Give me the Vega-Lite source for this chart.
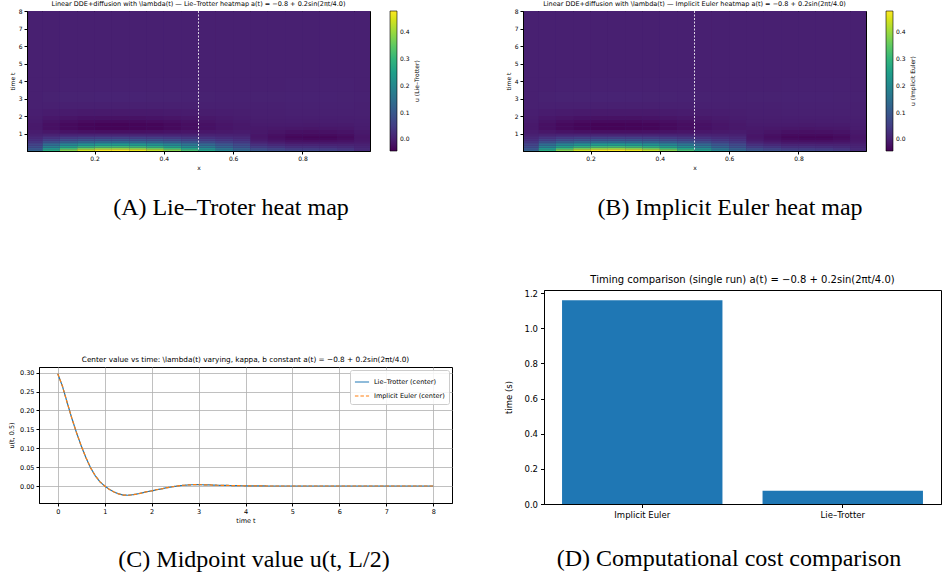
{
  "$schema": "https://vega.github.io/schema/vega-lite/v6.json",
  "padding": {"left": 7, "top": 0, "right": 0, "bottom": 0},
  "background": "white",
  "config": {
    "font": "DejaVu Sans",
    "view": {"stroke": "black", "strokeWidth": 1},
    "axis": {"labelFont": "DejaVu Sans", "titleFont": "DejaVu Sans", "labelColor": "black", "titleColor": "black", "tickColor": "black", "domainColor": "black", "titleFontWeight": "normal", "grid": false, "tickSize": 3, "labelPadding": 2},
    "title": {"font": "DejaVu Sans", "fontWeight": "normal", "color": "black", "anchor": "middle", "frame": "group"},
    "legend": {"labelFont": "DejaVu Sans", "titleFont": "DejaVu Sans", "labelColor": "black", "titleColor": "black"}
  },
  "datasets": {
    "heat": [
      {"x":0,"x2":0.05,"t":0,"t2":0.1,"u":0.12},{"x":0,"x2":0.05,"t":0.1,"t2":0.2,"u":0.098},{"x":0,"x2":0.05,"t":0.2,"t2":0.3,"u":0.079},{"x":0,"x2":0.05,"t":0.3,"t2":0.4,"u":0.062},{"x":0,"x2":0.05,"t":0.4,"t2":0.5,"u":0.048},{"x":0,"x2":0.05,"t":0.5,"t2":0.6,"u":0.035},{"x":0,"x2":0.05,"t":0.6,"t2":0.7,"u":0.024},{"x":0,"x2":0.05,"t":0.7,"t2":0.8,"u":0.014},{"x":0,"x2":0.05,"t":0.8,"t2":0.9,"u":0.007},{"x":0,"x2":0.05,"t":0.9,"t2":1,"u":0.001},{"x":0,"x2":0.05,"t":1,"t2":1.2,"u":-0.006},{"x":0,"x2":0.05,"t":1.2,"t2":1.4,"u":-0.01},{"x":0,"x2":0.05,"t":1.4,"t2":1.6,"u":-0.01},{"x":0,"x2":0.05,"t":1.6,"t2":1.8,"u":-0.008},{"x":0,"x2":0.05,"t":1.8,"t2":2,"u":-0.005},{"x":0,"x2":0.05,"t":2,"t2":2.4,"u":-0.002},{"x":0,"x2":0.05,"t":2.4,"t2":2.8,"u":0},{"x":0,"x2":0.05,"t":2.8,"t2":3.4,"u":0.001},{"x":0,"x2":0.05,"t":3.4,"t2":4.2,"u":0.001},{"x":0,"x2":0.05,"t":4.2,"t2":8,"u":0},
      {"x":0.05,"x2":0.1,"t":0,"t2":0.1,"u":0.28},{"x":0.05,"x2":0.1,"t":0.1,"t2":0.2,"u":0.23},{"x":0.05,"x2":0.1,"t":0.2,"t2":0.3,"u":0.185},{"x":0.05,"x2":0.1,"t":0.3,"t2":0.4,"u":0.146},{"x":0.05,"x2":0.1,"t":0.4,"t2":0.5,"u":0.112},{"x":0.05,"x2":0.1,"t":0.5,"t2":0.6,"u":0.081},{"x":0.05,"x2":0.1,"t":0.6,"t2":0.7,"u":0.056},{"x":0.05,"x2":0.1,"t":0.7,"t2":0.8,"u":0.034},{"x":0.05,"x2":0.1,"t":0.8,"t2":0.9,"u":0.017},{"x":0.05,"x2":0.1,"t":0.9,"t2":1,"u":0.003},{"x":0.05,"x2":0.1,"t":1,"t2":1.2,"u":-0.014},{"x":0.05,"x2":0.1,"t":1.2,"t2":1.4,"u":-0.024},{"x":0.05,"x2":0.1,"t":1.4,"t2":1.6,"u":-0.024},{"x":0.05,"x2":0.1,"t":1.6,"t2":1.8,"u":-0.018},{"x":0.05,"x2":0.1,"t":1.8,"t2":2,"u":-0.013},{"x":0.05,"x2":0.1,"t":2,"t2":2.4,"u":-0.006},{"x":0.05,"x2":0.1,"t":2.4,"t2":2.8,"u":0.001},{"x":0.05,"x2":0.1,"t":2.8,"t2":3.4,"u":0.003},{"x":0.05,"x2":0.1,"t":3.4,"t2":4.2,"u":0.001},{"x":0.05,"x2":0.1,"t":4.2,"t2":8,"u":0},
      {"x":0.1,"x2":0.15,"t":0,"t2":0.1,"u":0.38},{"x":0.1,"x2":0.15,"t":0.1,"t2":0.2,"u":0.312},{"x":0.1,"x2":0.15,"t":0.2,"t2":0.3,"u":0.251},{"x":0.1,"x2":0.15,"t":0.3,"t2":0.4,"u":0.198},{"x":0.1,"x2":0.15,"t":0.4,"t2":0.5,"u":0.152},{"x":0.1,"x2":0.15,"t":0.5,"t2":0.6,"u":0.11},{"x":0.1,"x2":0.15,"t":0.6,"t2":0.7,"u":0.076},{"x":0.1,"x2":0.15,"t":0.7,"t2":0.8,"u":0.046},{"x":0.1,"x2":0.15,"t":0.8,"t2":0.9,"u":0.023},{"x":0.1,"x2":0.15,"t":0.9,"t2":1,"u":0.004},{"x":0.1,"x2":0.15,"t":1,"t2":1.2,"u":-0.019},{"x":0.1,"x2":0.15,"t":1.2,"t2":1.4,"u":-0.032},{"x":0.1,"x2":0.15,"t":1.4,"t2":1.6,"u":-0.032},{"x":0.1,"x2":0.15,"t":1.6,"t2":1.8,"u":-0.025},{"x":0.1,"x2":0.15,"t":1.8,"t2":2,"u":-0.017},{"x":0.1,"x2":0.15,"t":2,"t2":2.4,"u":-0.008},{"x":0.1,"x2":0.15,"t":2.4,"t2":2.8,"u":0.001},{"x":0.1,"x2":0.15,"t":2.8,"t2":3.4,"u":0.005},{"x":0.1,"x2":0.15,"t":3.4,"t2":4.2,"u":0.002},{"x":0.1,"x2":0.15,"t":4.2,"t2":8,"u":0},
      {"x":0.15,"x2":0.2,"t":0,"t2":0.1,"u":0.44},{"x":0.15,"x2":0.2,"t":0.1,"t2":0.2,"u":0.361},{"x":0.15,"x2":0.2,"t":0.2,"t2":0.3,"u":0.29},{"x":0.15,"x2":0.2,"t":0.3,"t2":0.4,"u":0.229},{"x":0.15,"x2":0.2,"t":0.4,"t2":0.5,"u":0.176},{"x":0.15,"x2":0.2,"t":0.5,"t2":0.6,"u":0.128},{"x":0.15,"x2":0.2,"t":0.6,"t2":0.7,"u":0.088},{"x":0.15,"x2":0.2,"t":0.7,"t2":0.8,"u":0.053},{"x":0.15,"x2":0.2,"t":0.8,"t2":0.9,"u":0.026},{"x":0.15,"x2":0.2,"t":0.9,"t2":1,"u":0.004},{"x":0.15,"x2":0.2,"t":1,"t2":1.2,"u":-0.022},{"x":0.15,"x2":0.2,"t":1.2,"t2":1.4,"u":-0.037},{"x":0.15,"x2":0.2,"t":1.4,"t2":1.6,"u":-0.037},{"x":0.15,"x2":0.2,"t":1.6,"t2":1.8,"u":-0.029},{"x":0.15,"x2":0.2,"t":1.8,"t2":2,"u":-0.02},{"x":0.15,"x2":0.2,"t":2,"t2":2.4,"u":-0.009},{"x":0.15,"x2":0.2,"t":2.4,"t2":2.8,"u":0.001},{"x":0.15,"x2":0.2,"t":2.8,"t2":3.4,"u":0.005},{"x":0.15,"x2":0.2,"t":3.4,"t2":4.2,"u":0.002},{"x":0.15,"x2":0.2,"t":4.2,"t2":8,"u":0},
      {"x":0.2,"x2":0.25,"t":0,"t2":0.1,"u":0.47},{"x":0.2,"x2":0.25,"t":0.1,"t2":0.2,"u":0.385},{"x":0.2,"x2":0.25,"t":0.2,"t2":0.3,"u":0.31},{"x":0.2,"x2":0.25,"t":0.3,"t2":0.4,"u":0.244},{"x":0.2,"x2":0.25,"t":0.4,"t2":0.5,"u":0.188},{"x":0.2,"x2":0.25,"t":0.5,"t2":0.6,"u":0.136},{"x":0.2,"x2":0.25,"t":0.6,"t2":0.7,"u":0.094},{"x":0.2,"x2":0.25,"t":0.7,"t2":0.8,"u":0.056},{"x":0.2,"x2":0.25,"t":0.8,"t2":0.9,"u":0.028},{"x":0.2,"x2":0.25,"t":0.9,"t2":1,"u":0.005},{"x":0.2,"x2":0.25,"t":1,"t2":1.2,"u":-0.024},{"x":0.2,"x2":0.25,"t":1.2,"t2":1.4,"u":-0.04},{"x":0.2,"x2":0.25,"t":1.4,"t2":1.6,"u":-0.04},{"x":0.2,"x2":0.25,"t":1.6,"t2":1.8,"u":-0.031},{"x":0.2,"x2":0.25,"t":1.8,"t2":2,"u":-0.021},{"x":0.2,"x2":0.25,"t":2,"t2":2.4,"u":-0.009},{"x":0.2,"x2":0.25,"t":2.4,"t2":2.8,"u":0.001},{"x":0.2,"x2":0.25,"t":2.8,"t2":3.4,"u":0.006},{"x":0.2,"x2":0.25,"t":3.4,"t2":4.2,"u":0.002},{"x":0.2,"x2":0.25,"t":4.2,"t2":8,"u":0},
      {"x":0.25,"x2":0.3,"t":0,"t2":0.1,"u":0.475},{"x":0.25,"x2":0.3,"t":0.1,"t2":0.2,"u":0.39},{"x":0.25,"x2":0.3,"t":0.2,"t2":0.3,"u":0.313},{"x":0.25,"x2":0.3,"t":0.3,"t2":0.4,"u":0.247},{"x":0.25,"x2":0.3,"t":0.4,"t2":0.5,"u":0.19},{"x":0.25,"x2":0.3,"t":0.5,"t2":0.6,"u":0.138},{"x":0.25,"x2":0.3,"t":0.6,"t2":0.7,"u":0.095},{"x":0.25,"x2":0.3,"t":0.7,"t2":0.8,"u":0.057},{"x":0.25,"x2":0.3,"t":0.8,"t2":0.9,"u":0.028},{"x":0.25,"x2":0.3,"t":0.9,"t2":1,"u":0.005},{"x":0.25,"x2":0.3,"t":1,"t2":1.2,"u":-0.024},{"x":0.25,"x2":0.3,"t":1.2,"t2":1.4,"u":-0.04},{"x":0.25,"x2":0.3,"t":1.4,"t2":1.6,"u":-0.04},{"x":0.25,"x2":0.3,"t":1.6,"t2":1.8,"u":-0.031},{"x":0.25,"x2":0.3,"t":1.8,"t2":2,"u":-0.021},{"x":0.25,"x2":0.3,"t":2,"t2":2.4,"u":-0.009},{"x":0.25,"x2":0.3,"t":2.4,"t2":2.8,"u":0.001},{"x":0.25,"x2":0.3,"t":2.8,"t2":3.4,"u":0.006},{"x":0.25,"x2":0.3,"t":3.4,"t2":4.2,"u":0.002},{"x":0.25,"x2":0.3,"t":4.2,"t2":8,"u":0},
      {"x":0.3,"x2":0.35,"t":0,"t2":0.1,"u":0.46},{"x":0.3,"x2":0.35,"t":0.1,"t2":0.2,"u":0.377},{"x":0.3,"x2":0.35,"t":0.2,"t2":0.3,"u":0.304},{"x":0.3,"x2":0.35,"t":0.3,"t2":0.4,"u":0.239},{"x":0.3,"x2":0.35,"t":0.4,"t2":0.5,"u":0.184},{"x":0.3,"x2":0.35,"t":0.5,"t2":0.6,"u":0.133},{"x":0.3,"x2":0.35,"t":0.6,"t2":0.7,"u":0.092},{"x":0.3,"x2":0.35,"t":0.7,"t2":0.8,"u":0.055},{"x":0.3,"x2":0.35,"t":0.8,"t2":0.9,"u":0.028},{"x":0.3,"x2":0.35,"t":0.9,"t2":1,"u":0.005},{"x":0.3,"x2":0.35,"t":1,"t2":1.2,"u":-0.023},{"x":0.3,"x2":0.35,"t":1.2,"t2":1.4,"u":-0.039},{"x":0.3,"x2":0.35,"t":1.4,"t2":1.6,"u":-0.039},{"x":0.3,"x2":0.35,"t":1.6,"t2":1.8,"u":-0.03},{"x":0.3,"x2":0.35,"t":1.8,"t2":2,"u":-0.021},{"x":0.3,"x2":0.35,"t":2,"t2":2.4,"u":-0.009},{"x":0.3,"x2":0.35,"t":2.4,"t2":2.8,"u":0.001},{"x":0.3,"x2":0.35,"t":2.8,"t2":3.4,"u":0.006},{"x":0.3,"x2":0.35,"t":3.4,"t2":4.2,"u":0.002},{"x":0.3,"x2":0.35,"t":4.2,"t2":8,"u":0},
      {"x":0.35,"x2":0.4,"t":0,"t2":0.1,"u":0.43},{"x":0.35,"x2":0.4,"t":0.1,"t2":0.2,"u":0.353},{"x":0.35,"x2":0.4,"t":0.2,"t2":0.3,"u":0.284},{"x":0.35,"x2":0.4,"t":0.3,"t2":0.4,"u":0.224},{"x":0.35,"x2":0.4,"t":0.4,"t2":0.5,"u":0.172},{"x":0.35,"x2":0.4,"t":0.5,"t2":0.6,"u":0.125},{"x":0.35,"x2":0.4,"t":0.6,"t2":0.7,"u":0.086},{"x":0.35,"x2":0.4,"t":0.7,"t2":0.8,"u":0.052},{"x":0.35,"x2":0.4,"t":0.8,"t2":0.9,"u":0.026},{"x":0.35,"x2":0.4,"t":0.9,"t2":1,"u":0.004},{"x":0.35,"x2":0.4,"t":1,"t2":1.2,"u":-0.022},{"x":0.35,"x2":0.4,"t":1.2,"t2":1.4,"u":-0.037},{"x":0.35,"x2":0.4,"t":1.4,"t2":1.6,"u":-0.037},{"x":0.35,"x2":0.4,"t":1.6,"t2":1.8,"u":-0.028},{"x":0.35,"x2":0.4,"t":1.8,"t2":2,"u":-0.019},{"x":0.35,"x2":0.4,"t":2,"t2":2.4,"u":-0.009},{"x":0.35,"x2":0.4,"t":2.4,"t2":2.8,"u":0.001},{"x":0.35,"x2":0.4,"t":2.8,"t2":3.4,"u":0.005},{"x":0.35,"x2":0.4,"t":3.4,"t2":4.2,"u":0.002},{"x":0.35,"x2":0.4,"t":4.2,"t2":8,"u":0},
      {"x":0.4,"x2":0.45,"t":0,"t2":0.1,"u":0.38},{"x":0.4,"x2":0.45,"t":0.1,"t2":0.2,"u":0.312},{"x":0.4,"x2":0.45,"t":0.2,"t2":0.3,"u":0.251},{"x":0.4,"x2":0.45,"t":0.3,"t2":0.4,"u":0.198},{"x":0.4,"x2":0.45,"t":0.4,"t2":0.5,"u":0.152},{"x":0.4,"x2":0.45,"t":0.5,"t2":0.6,"u":0.11},{"x":0.4,"x2":0.45,"t":0.6,"t2":0.7,"u":0.076},{"x":0.4,"x2":0.45,"t":0.7,"t2":0.8,"u":0.046},{"x":0.4,"x2":0.45,"t":0.8,"t2":0.9,"u":0.023},{"x":0.4,"x2":0.45,"t":0.9,"t2":1,"u":0.004},{"x":0.4,"x2":0.45,"t":1,"t2":1.2,"u":-0.019},{"x":0.4,"x2":0.45,"t":1.2,"t2":1.4,"u":-0.032},{"x":0.4,"x2":0.45,"t":1.4,"t2":1.6,"u":-0.032},{"x":0.4,"x2":0.45,"t":1.6,"t2":1.8,"u":-0.025},{"x":0.4,"x2":0.45,"t":1.8,"t2":2,"u":-0.017},{"x":0.4,"x2":0.45,"t":2,"t2":2.4,"u":-0.008},{"x":0.4,"x2":0.45,"t":2.4,"t2":2.8,"u":0.001},{"x":0.4,"x2":0.45,"t":2.8,"t2":3.4,"u":0.005},{"x":0.4,"x2":0.45,"t":3.4,"t2":4.2,"u":0.002},{"x":0.4,"x2":0.45,"t":4.2,"t2":8,"u":0},
      {"x":0.45,"x2":0.5,"t":0,"t2":0.1,"u":0.32},{"x":0.45,"x2":0.5,"t":0.1,"t2":0.2,"u":0.262},{"x":0.45,"x2":0.5,"t":0.2,"t2":0.3,"u":0.211},{"x":0.45,"x2":0.5,"t":0.3,"t2":0.4,"u":0.166},{"x":0.45,"x2":0.5,"t":0.4,"t2":0.5,"u":0.128},{"x":0.45,"x2":0.5,"t":0.5,"t2":0.6,"u":0.093},{"x":0.45,"x2":0.5,"t":0.6,"t2":0.7,"u":0.064},{"x":0.45,"x2":0.5,"t":0.7,"t2":0.8,"u":0.038},{"x":0.45,"x2":0.5,"t":0.8,"t2":0.9,"u":0.019},{"x":0.45,"x2":0.5,"t":0.9,"t2":1,"u":0.003},{"x":0.45,"x2":0.5,"t":1,"t2":1.2,"u":-0.016},{"x":0.45,"x2":0.5,"t":1.2,"t2":1.4,"u":-0.027},{"x":0.45,"x2":0.5,"t":1.4,"t2":1.6,"u":-0.027},{"x":0.45,"x2":0.5,"t":1.6,"t2":1.8,"u":-0.021},{"x":0.45,"x2":0.5,"t":1.8,"t2":2,"u":-0.014},{"x":0.45,"x2":0.5,"t":2,"t2":2.4,"u":-0.006},{"x":0.45,"x2":0.5,"t":2.4,"t2":2.8,"u":0.001},{"x":0.45,"x2":0.5,"t":2.8,"t2":3.4,"u":0.004},{"x":0.45,"x2":0.5,"t":3.4,"t2":4.2,"u":0.002},{"x":0.45,"x2":0.5,"t":4.2,"t2":8,"u":0},
      {"x":0.5,"x2":0.55,"t":0,"t2":0.1,"u":0.26},{"x":0.5,"x2":0.55,"t":0.1,"t2":0.2,"u":0.213},{"x":0.5,"x2":0.55,"t":0.2,"t2":0.3,"u":0.172},{"x":0.5,"x2":0.55,"t":0.3,"t2":0.4,"u":0.135},{"x":0.5,"x2":0.55,"t":0.4,"t2":0.5,"u":0.104},{"x":0.5,"x2":0.55,"t":0.5,"t2":0.6,"u":0.075},{"x":0.5,"x2":0.55,"t":0.6,"t2":0.7,"u":0.052},{"x":0.5,"x2":0.55,"t":0.7,"t2":0.8,"u":0.031},{"x":0.5,"x2":0.55,"t":0.8,"t2":0.9,"u":0.016},{"x":0.5,"x2":0.55,"t":0.9,"t2":1,"u":0.003},{"x":0.5,"x2":0.55,"t":1,"t2":1.2,"u":-0.013},{"x":0.5,"x2":0.55,"t":1.2,"t2":1.4,"u":-0.022},{"x":0.5,"x2":0.55,"t":1.4,"t2":1.6,"u":-0.022},{"x":0.5,"x2":0.55,"t":1.6,"t2":1.8,"u":-0.017},{"x":0.5,"x2":0.55,"t":1.8,"t2":2,"u":-0.012},{"x":0.5,"x2":0.55,"t":2,"t2":2.4,"u":-0.005},{"x":0.5,"x2":0.55,"t":2.4,"t2":2.8,"u":0.001},{"x":0.5,"x2":0.55,"t":2.8,"t2":3.4,"u":0.003},{"x":0.5,"x2":0.55,"t":3.4,"t2":4.2,"u":0.001},{"x":0.5,"x2":0.55,"t":4.2,"t2":8,"u":0},
      {"x":0.55,"x2":0.6,"t":0,"t2":0.1,"u":0.19},{"x":0.55,"x2":0.6,"t":0.1,"t2":0.2,"u":0.156},{"x":0.55,"x2":0.6,"t":0.2,"t2":0.3,"u":0.125},{"x":0.55,"x2":0.6,"t":0.3,"t2":0.4,"u":0.099},{"x":0.55,"x2":0.6,"t":0.4,"t2":0.5,"u":0.076},{"x":0.55,"x2":0.6,"t":0.5,"t2":0.6,"u":0.055},{"x":0.55,"x2":0.6,"t":0.6,"t2":0.7,"u":0.038},{"x":0.55,"x2":0.6,"t":0.7,"t2":0.8,"u":0.023},{"x":0.55,"x2":0.6,"t":0.8,"t2":0.9,"u":0.011},{"x":0.55,"x2":0.6,"t":0.9,"t2":1,"u":0.002},{"x":0.55,"x2":0.6,"t":1,"t2":1.2,"u":-0.01},{"x":0.55,"x2":0.6,"t":1.2,"t2":1.4,"u":-0.016},{"x":0.55,"x2":0.6,"t":1.4,"t2":1.6,"u":-0.016},{"x":0.55,"x2":0.6,"t":1.6,"t2":1.8,"u":-0.012},{"x":0.55,"x2":0.6,"t":1.8,"t2":2,"u":-0.009},{"x":0.55,"x2":0.6,"t":2,"t2":2.4,"u":-0.004},{"x":0.55,"x2":0.6,"t":2.4,"t2":2.8,"u":0.001},{"x":0.55,"x2":0.6,"t":2.8,"t2":3.4,"u":0.002},{"x":0.55,"x2":0.6,"t":3.4,"t2":4.2,"u":0.001},{"x":0.55,"x2":0.6,"t":4.2,"t2":8,"u":0},
      {"x":0.6,"x2":0.65,"t":0,"t2":0.1,"u":0.14},{"x":0.6,"x2":0.65,"t":0.1,"t2":0.2,"u":0.115},{"x":0.6,"x2":0.65,"t":0.2,"t2":0.3,"u":0.092},{"x":0.6,"x2":0.65,"t":0.3,"t2":0.4,"u":0.073},{"x":0.6,"x2":0.65,"t":0.4,"t2":0.5,"u":0.056},{"x":0.6,"x2":0.65,"t":0.5,"t2":0.6,"u":0.041},{"x":0.6,"x2":0.65,"t":0.6,"t2":0.7,"u":0.028},{"x":0.6,"x2":0.65,"t":0.7,"t2":0.8,"u":0.017},{"x":0.6,"x2":0.65,"t":0.8,"t2":0.9,"u":0.008},{"x":0.6,"x2":0.65,"t":0.9,"t2":1,"u":0.001},{"x":0.6,"x2":0.65,"t":1,"t2":1.2,"u":-0.007},{"x":0.6,"x2":0.65,"t":1.2,"t2":1.4,"u":-0.012},{"x":0.6,"x2":0.65,"t":1.4,"t2":1.6,"u":-0.012},{"x":0.6,"x2":0.65,"t":1.6,"t2":1.8,"u":-0.009},{"x":0.6,"x2":0.65,"t":1.8,"t2":2,"u":-0.006},{"x":0.6,"x2":0.65,"t":2,"t2":2.4,"u":-0.003},{"x":0.6,"x2":0.65,"t":2.4,"t2":2.8,"u":0},{"x":0.6,"x2":0.65,"t":2.8,"t2":3.4,"u":0.002},{"x":0.6,"x2":0.65,"t":3.4,"t2":4.2,"u":0.001},{"x":0.6,"x2":0.65,"t":4.2,"t2":8,"u":0},
      {"x":0.65,"x2":0.7,"t":0,"t2":0.1,"u":0.1},{"x":0.65,"x2":0.7,"t":0.1,"t2":0.2,"u":0.075},{"x":0.65,"x2":0.7,"t":0.2,"t2":0.3,"u":0.05},{"x":0.65,"x2":0.7,"t":0.3,"t2":0.4,"u":0.03},{"x":0.65,"x2":0.7,"t":0.4,"t2":0.5,"u":0.015},{"x":0.65,"x2":0.7,"t":0.5,"t2":0.6,"u":0},{"x":0.65,"x2":0.7,"t":0.6,"t2":0.7,"u":-0.01},{"x":0.65,"x2":0.7,"t":0.7,"t2":0.8,"u":-0.015},{"x":0.65,"x2":0.7,"t":0.8,"t2":0.9,"u":-0.016},{"x":0.65,"x2":0.7,"t":0.9,"t2":1,"u":-0.015},{"x":0.65,"x2":0.7,"t":1,"t2":1.2,"u":-0.012},{"x":0.65,"x2":0.7,"t":1.2,"t2":1.4,"u":-0.01},{"x":0.65,"x2":0.7,"t":1.4,"t2":1.6,"u":-0.008},{"x":0.65,"x2":0.7,"t":1.6,"t2":1.8,"u":-0.005},{"x":0.65,"x2":0.7,"t":1.8,"t2":2,"u":-0.003},{"x":0.65,"x2":0.7,"t":2,"t2":2.4,"u":-0.001},{"x":0.65,"x2":0.7,"t":2.4,"t2":2.8,"u":0.001},{"x":0.65,"x2":0.7,"t":2.8,"t2":3.4,"u":0.003},{"x":0.65,"x2":0.7,"t":3.4,"t2":4.2,"u":0.001},{"x":0.65,"x2":0.7,"t":4.2,"t2":8,"u":0},
      {"x":0.7,"x2":0.75,"t":0,"t2":0.1,"u":0.08},{"x":0.7,"x2":0.75,"t":0.1,"t2":0.2,"u":0.06},{"x":0.7,"x2":0.75,"t":0.2,"t2":0.3,"u":0.037},{"x":0.7,"x2":0.75,"t":0.3,"t2":0.4,"u":0.018},{"x":0.7,"x2":0.75,"t":0.4,"t2":0.5,"u":0.002},{"x":0.7,"x2":0.75,"t":0.5,"t2":0.6,"u":-0.012},{"x":0.7,"x2":0.75,"t":0.6,"t2":0.7,"u":-0.022},{"x":0.7,"x2":0.75,"t":0.7,"t2":0.8,"u":-0.027},{"x":0.7,"x2":0.75,"t":0.8,"t2":0.9,"u":-0.026},{"x":0.7,"x2":0.75,"t":0.9,"t2":1,"u":-0.023},{"x":0.7,"x2":0.75,"t":1,"t2":1.2,"u":-0.017},{"x":0.7,"x2":0.75,"t":1.2,"t2":1.4,"u":-0.012},{"x":0.7,"x2":0.75,"t":1.4,"t2":1.6,"u":-0.008},{"x":0.7,"x2":0.75,"t":1.6,"t2":1.8,"u":-0.005},{"x":0.7,"x2":0.75,"t":1.8,"t2":2,"u":-0.003},{"x":0.7,"x2":0.75,"t":2,"t2":2.4,"u":-0.001},{"x":0.7,"x2":0.75,"t":2.4,"t2":2.8,"u":0.001},{"x":0.7,"x2":0.75,"t":2.8,"t2":3.4,"u":0.003},{"x":0.7,"x2":0.75,"t":3.4,"t2":4.2,"u":0.001},{"x":0.7,"x2":0.75,"t":4.2,"t2":8,"u":0},
      {"x":0.75,"x2":0.8,"t":0,"t2":0.1,"u":0.07},{"x":0.75,"x2":0.8,"t":0.1,"t2":0.2,"u":0.045},{"x":0.75,"x2":0.8,"t":0.2,"t2":0.3,"u":0.025},{"x":0.75,"x2":0.8,"t":0.3,"t2":0.4,"u":0.008},{"x":0.75,"x2":0.8,"t":0.4,"t2":0.5,"u":-0.008},{"x":0.75,"x2":0.8,"t":0.5,"t2":0.6,"u":-0.02},{"x":0.75,"x2":0.8,"t":0.6,"t2":0.7,"u":-0.03},{"x":0.75,"x2":0.8,"t":0.7,"t2":0.8,"u":-0.036},{"x":0.75,"x2":0.8,"t":0.8,"t2":0.9,"u":-0.034},{"x":0.75,"x2":0.8,"t":0.9,"t2":1,"u":-0.03},{"x":0.75,"x2":0.8,"t":1,"t2":1.2,"u":-0.022},{"x":0.75,"x2":0.8,"t":1.2,"t2":1.4,"u":-0.014},{"x":0.75,"x2":0.8,"t":1.4,"t2":1.6,"u":-0.008},{"x":0.75,"x2":0.8,"t":1.6,"t2":1.8,"u":-0.004},{"x":0.75,"x2":0.8,"t":1.8,"t2":2,"u":-0.002},{"x":0.75,"x2":0.8,"t":2,"t2":2.4,"u":0},{"x":0.75,"x2":0.8,"t":2.4,"t2":2.8,"u":0.002},{"x":0.75,"x2":0.8,"t":2.8,"t2":3.4,"u":0.004},{"x":0.75,"x2":0.8,"t":3.4,"t2":4.2,"u":0.002},{"x":0.75,"x2":0.8,"t":4.2,"t2":8,"u":0},
      {"x":0.8,"x2":0.85,"t":0,"t2":0.1,"u":0.07},{"x":0.8,"x2":0.85,"t":0.1,"t2":0.2,"u":0.045},{"x":0.8,"x2":0.85,"t":0.2,"t2":0.3,"u":0.025},{"x":0.8,"x2":0.85,"t":0.3,"t2":0.4,"u":0.008},{"x":0.8,"x2":0.85,"t":0.4,"t2":0.5,"u":-0.008},{"x":0.8,"x2":0.85,"t":0.5,"t2":0.6,"u":-0.022},{"x":0.8,"x2":0.85,"t":0.6,"t2":0.7,"u":-0.033},{"x":0.8,"x2":0.85,"t":0.7,"t2":0.8,"u":-0.038},{"x":0.8,"x2":0.85,"t":0.8,"t2":0.9,"u":-0.036},{"x":0.8,"x2":0.85,"t":0.9,"t2":1,"u":-0.031},{"x":0.8,"x2":0.85,"t":1,"t2":1.2,"u":-0.023},{"x":0.8,"x2":0.85,"t":1.2,"t2":1.4,"u":-0.015},{"x":0.8,"x2":0.85,"t":1.4,"t2":1.6,"u":-0.009},{"x":0.8,"x2":0.85,"t":1.6,"t2":1.8,"u":-0.005},{"x":0.8,"x2":0.85,"t":1.8,"t2":2,"u":-0.002},{"x":0.8,"x2":0.85,"t":2,"t2":2.4,"u":0},{"x":0.8,"x2":0.85,"t":2.4,"t2":2.8,"u":0.002},{"x":0.8,"x2":0.85,"t":2.8,"t2":3.4,"u":0.004},{"x":0.8,"x2":0.85,"t":3.4,"t2":4.2,"u":0.002},{"x":0.8,"x2":0.85,"t":4.2,"t2":8,"u":0},
      {"x":0.85,"x2":0.9,"t":0,"t2":0.1,"u":0.06},{"x":0.85,"x2":0.9,"t":0.1,"t2":0.2,"u":0.04},{"x":0.85,"x2":0.9,"t":0.2,"t2":0.3,"u":0.022},{"x":0.85,"x2":0.9,"t":0.3,"t2":0.4,"u":0.006},{"x":0.85,"x2":0.9,"t":0.4,"t2":0.5,"u":-0.009},{"x":0.85,"x2":0.9,"t":0.5,"t2":0.6,"u":-0.022},{"x":0.85,"x2":0.9,"t":0.6,"t2":0.7,"u":-0.033},{"x":0.85,"x2":0.9,"t":0.7,"t2":0.8,"u":-0.038},{"x":0.85,"x2":0.9,"t":0.8,"t2":0.9,"u":-0.036},{"x":0.85,"x2":0.9,"t":0.9,"t2":1,"u":-0.031},{"x":0.85,"x2":0.9,"t":1,"t2":1.2,"u":-0.022},{"x":0.85,"x2":0.9,"t":1.2,"t2":1.4,"u":-0.014},{"x":0.85,"x2":0.9,"t":1.4,"t2":1.6,"u":-0.008},{"x":0.85,"x2":0.9,"t":1.6,"t2":1.8,"u":-0.004},{"x":0.85,"x2":0.9,"t":1.8,"t2":2,"u":-0.002},{"x":0.85,"x2":0.9,"t":2,"t2":2.4,"u":0},{"x":0.85,"x2":0.9,"t":2.4,"t2":2.8,"u":0.002},{"x":0.85,"x2":0.9,"t":2.8,"t2":3.4,"u":0.004},{"x":0.85,"x2":0.9,"t":3.4,"t2":4.2,"u":0.002},{"x":0.85,"x2":0.9,"t":4.2,"t2":8,"u":0},
      {"x":0.9,"x2":0.95,"t":0,"t2":0.1,"u":0.05},{"x":0.9,"x2":0.95,"t":0.1,"t2":0.2,"u":0.033},{"x":0.9,"x2":0.95,"t":0.2,"t2":0.3,"u":0.018},{"x":0.9,"x2":0.95,"t":0.3,"t2":0.4,"u":0.005},{"x":0.9,"x2":0.95,"t":0.4,"t2":0.5,"u":-0.008},{"x":0.9,"x2":0.95,"t":0.5,"t2":0.6,"u":-0.019},{"x":0.9,"x2":0.95,"t":0.6,"t2":0.7,"u":-0.028},{"x":0.9,"x2":0.95,"t":0.7,"t2":0.8,"u":-0.032},{"x":0.9,"x2":0.95,"t":0.8,"t2":0.9,"u":-0.03},{"x":0.9,"x2":0.95,"t":0.9,"t2":1,"u":-0.026},{"x":0.9,"x2":0.95,"t":1,"t2":1.2,"u":-0.019},{"x":0.9,"x2":0.95,"t":1.2,"t2":1.4,"u":-0.012},{"x":0.9,"x2":0.95,"t":1.4,"t2":1.6,"u":-0.007},{"x":0.9,"x2":0.95,"t":1.6,"t2":1.8,"u":-0.003},{"x":0.9,"x2":0.95,"t":1.8,"t2":2,"u":-0.002},{"x":0.9,"x2":0.95,"t":2,"t2":2.4,"u":0},{"x":0.9,"x2":0.95,"t":2.4,"t2":2.8,"u":0.002},{"x":0.9,"x2":0.95,"t":2.8,"t2":3.4,"u":0.003},{"x":0.9,"x2":0.95,"t":3.4,"t2":4.2,"u":0.002},{"x":0.9,"x2":0.95,"t":4.2,"t2":8,"u":0},
      {"x":0.95,"x2":1,"t":0,"t2":0.1,"u":0.02},{"x":0.95,"x2":1,"t":0.1,"t2":0.2,"u":0.015},{"x":0.95,"x2":1,"t":0.2,"t2":0.3,"u":0.008},{"x":0.95,"x2":1,"t":0.3,"t2":0.4,"u":0.002},{"x":0.95,"x2":1,"t":0.4,"t2":0.5,"u":-0.004},{"x":0.95,"x2":1,"t":0.5,"t2":0.6,"u":-0.01},{"x":0.95,"x2":1,"t":0.6,"t2":0.7,"u":-0.014},{"x":0.95,"x2":1,"t":0.7,"t2":0.8,"u":-0.016},{"x":0.95,"x2":1,"t":0.8,"t2":0.9,"u":-0.015},{"x":0.95,"x2":1,"t":0.9,"t2":1,"u":-0.013},{"x":0.95,"x2":1,"t":1,"t2":1.2,"u":-0.01},{"x":0.95,"x2":1,"t":1.2,"t2":1.4,"u":-0.006},{"x":0.95,"x2":1,"t":1.4,"t2":1.6,"u":-0.004},{"x":0.95,"x2":1,"t":1.6,"t2":1.8,"u":-0.002},{"x":0.95,"x2":1,"t":1.8,"t2":2,"u":-0.001},{"x":0.95,"x2":1,"t":2,"t2":2.4,"u":0},{"x":0.95,"x2":1,"t":2.4,"t2":2.8,"u":0.001},{"x":0.95,"x2":1,"t":2.8,"t2":3.4,"u":0.002},{"x":0.95,"x2":1,"t":3.4,"t2":4.2,"u":0.001},{"x":0.95,"x2":1,"t":4.2,"t2":8,"u":0}
    ],
    "center": [
      {"series":"Lie–Trotter (center)","t":0,"u":0.297},{"series":"Lie–Trotter (center)","t":0.1,"u":0.264},{"series":"Lie–Trotter (center)","t":0.2,"u":0.221},{"series":"Lie–Trotter (center)","t":0.3,"u":0.179},{"series":"Lie–Trotter (center)","t":0.4,"u":0.141},{"series":"Lie–Trotter (center)","t":0.5,"u":0.106},{"series":"Lie–Trotter (center)","t":0.6,"u":0.075},{"series":"Lie–Trotter (center)","t":0.7,"u":0.048},{"series":"Lie–Trotter (center)","t":0.8,"u":0.027},{"series":"Lie–Trotter (center)","t":0.9,"u":0.011},{"series":"Lie–Trotter (center)","t":1,"u":0},{"series":"Lie–Trotter (center)","t":1.1,"u":-0.009},{"series":"Lie–Trotter (center)","t":1.2,"u":-0.016},{"series":"Lie–Trotter (center)","t":1.3,"u":-0.021},{"series":"Lie–Trotter (center)","t":1.4,"u":-0.024},{"series":"Lie–Trotter (center)","t":1.5,"u":-0.0245},{"series":"Lie–Trotter (center)","t":1.6,"u":-0.023},{"series":"Lie–Trotter (center)","t":1.7,"u":-0.021},{"series":"Lie–Trotter (center)","t":1.8,"u":-0.018},{"series":"Lie–Trotter (center)","t":1.9,"u":-0.015},{"series":"Lie–Trotter (center)","t":2,"u":-0.013},{"series":"Lie–Trotter (center)","t":2.1,"u":-0.01},{"series":"Lie–Trotter (center)","t":2.2,"u":-0.008},{"series":"Lie–Trotter (center)","t":2.3,"u":-0.005},{"series":"Lie–Trotter (center)","t":2.4,"u":-0.003},{"series":"Lie–Trotter (center)","t":2.5,"u":-0.001},{"series":"Lie–Trotter (center)","t":2.6,"u":0.001},{"series":"Lie–Trotter (center)","t":2.7,"u":0.002},{"series":"Lie–Trotter (center)","t":2.8,"u":0.003},{"series":"Lie–Trotter (center)","t":2.9,"u":0.0035},{"series":"Lie–Trotter (center)","t":3,"u":0.0035},{"series":"Lie–Trotter (center)","t":3.2,"u":0.003},{"series":"Lie–Trotter (center)","t":3.4,"u":0.002},{"series":"Lie–Trotter (center)","t":3.6,"u":0.0015},{"series":"Lie–Trotter (center)","t":3.8,"u":0.001},{"series":"Lie–Trotter (center)","t":4,"u":0.0005},{"series":"Lie–Trotter (center)","t":4.5,"u":0},{"series":"Lie–Trotter (center)","t":5,"u":0},{"series":"Lie–Trotter (center)","t":6,"u":0},{"series":"Lie–Trotter (center)","t":7,"u":0},{"series":"Lie–Trotter (center)","t":8,"u":0},
      {"series":"Implicit Euler (center)","t":0,"u":0.297},{"series":"Implicit Euler (center)","t":0.1,"u":0.264},{"series":"Implicit Euler (center)","t":0.2,"u":0.221},{"series":"Implicit Euler (center)","t":0.3,"u":0.179},{"series":"Implicit Euler (center)","t":0.4,"u":0.141},{"series":"Implicit Euler (center)","t":0.5,"u":0.106},{"series":"Implicit Euler (center)","t":0.6,"u":0.075},{"series":"Implicit Euler (center)","t":0.7,"u":0.048},{"series":"Implicit Euler (center)","t":0.8,"u":0.027},{"series":"Implicit Euler (center)","t":0.9,"u":0.011},{"series":"Implicit Euler (center)","t":1,"u":0},{"series":"Implicit Euler (center)","t":1.1,"u":-0.009},{"series":"Implicit Euler (center)","t":1.2,"u":-0.016},{"series":"Implicit Euler (center)","t":1.3,"u":-0.021},{"series":"Implicit Euler (center)","t":1.4,"u":-0.024},{"series":"Implicit Euler (center)","t":1.5,"u":-0.0245},{"series":"Implicit Euler (center)","t":1.6,"u":-0.023},{"series":"Implicit Euler (center)","t":1.7,"u":-0.021},{"series":"Implicit Euler (center)","t":1.8,"u":-0.018},{"series":"Implicit Euler (center)","t":1.9,"u":-0.015},{"series":"Implicit Euler (center)","t":2,"u":-0.013},{"series":"Implicit Euler (center)","t":2.1,"u":-0.01},{"series":"Implicit Euler (center)","t":2.2,"u":-0.008},{"series":"Implicit Euler (center)","t":2.3,"u":-0.005},{"series":"Implicit Euler (center)","t":2.4,"u":-0.003},{"series":"Implicit Euler (center)","t":2.5,"u":-0.001},{"series":"Implicit Euler (center)","t":2.6,"u":0.001},{"series":"Implicit Euler (center)","t":2.7,"u":0.002},{"series":"Implicit Euler (center)","t":2.8,"u":0.003},{"series":"Implicit Euler (center)","t":2.9,"u":0.0035},{"series":"Implicit Euler (center)","t":3,"u":0.0035},{"series":"Implicit Euler (center)","t":3.2,"u":0.003},{"series":"Implicit Euler (center)","t":3.4,"u":0.002},{"series":"Implicit Euler (center)","t":3.6,"u":0.0015},{"series":"Implicit Euler (center)","t":3.8,"u":0.001},{"series":"Implicit Euler (center)","t":4,"u":0.0005},{"series":"Implicit Euler (center)","t":4.5,"u":0},{"series":"Implicit Euler (center)","t":5,"u":0},{"series":"Implicit Euler (center)","t":6,"u":0},{"series":"Implicit Euler (center)","t":7,"u":0},{"series":"Implicit Euler (center)","t":8,"u":0}
    ],
    "timing": [
      {"method": "Implicit Euler", "time": 1.16},
      {"method": "Lie–Trotter", "time": 0.076}
    ],
    "none": []
  },
  "resolve": {"scale": {"color": "independent", "strokeDash": "independent"}, "legend": {"color": "independent", "strokeDash": "independent"}},
  "columns": 2,
  "align": "none",
  "spacing": 2,
  "concat": [
    {
      "columns": 1, "align": "none", "spacing": 110,
      "resolve": {"scale": {"color": "independent", "strokeDash": "independent"}, "legend": {"color": "independent", "strokeDash": "independent"}},
      "concat": [
        {
          "columns": 1, "align": "none", "spacing": 0,
          "resolve": {"scale": {"color": "independent"}, "legend": {"color": "independent"}},
          "concat": [
            {
              "columns": 2, "align": "none", "spacing": 0,
              "resolve": {"scale": {"color": "independent"}, "legend": {"color": "independent"}},
              "concat": [
                {"width": 1, "height": 1, "view": {"stroke": null}, "data": {"name": "none"}, "mark": "point"},
                {
                  "width": 343, "height": 140,
                  "view": {"fill": "#471f70"},
                  "title": {"text": "Linear DDE+diffusion with \\lambda(t) — Lie–Trotter heatmap a(t) = −0.8 + 0.2sin(2πt/4.0)", "fontSize": 6.5, "offset": 0.4},
                  "layer": [
                    {
                      "data": {"name": "heat"},
                      "mark": {"type": "rect", "clip": true},
                      "encoding": {
                        "x": {"field": "x", "type": "quantitative", "scale": {"domain": [0.005, 0.995], "nice": false, "zero": false}, "axis": {"values": [0.2, 0.4, 0.6, 0.8], "format": ".1f", "title": "x", "labelFontSize": 6, "titleFontSize": 6, "labelPadding": 1.5, "titlePadding": 3, "zindex": 1}},
                        "x2": {"field": "x2"},
                        "y": {"field": "t", "type": "quantitative", "scale": {"domain": [0, 8], "nice": false, "zero": false}, "axis": {"values": [1, 2, 3, 4, 5, 6, 7, 8], "format": "d", "title": "time t", "labelFontSize": 6, "titleFontSize": 6, "titlePadding": 3, "zindex": 1}},
                        "y2": {"field": "t2"},
                        "color": {"field": "u", "type": "quantitative", "scale": {"scheme": "viridis", "domain": [-0.044, 0.48], "nice": false}, "legend": {"type": "gradient", "direction": "vertical", "title": "u (Lie–Trotter)", "orient": "right", "offset": 20, "gradientLength": 140, "gradientThickness": 7, "values": [0, 0.1, 0.2, 0.3, 0.4], "format": ".1f", "labelFontSize": 6, "labelOverlap": false, "labelOffset": 3, "titleFontSize": 6, "titleFontWeight": "normal", "titleOrient": "right", "titleAnchor": "middle", "titlePadding": 4, "gradientStrokeColor": "black", "gradientStrokeWidth": 0.6, "encode": {"title": {"update": {"angle": {"value": -90}, "baseline": {"value": "top"}, "align": {"value": "center"}}}}}}
                      }
                    },
                    {
                      "data": {"values": [{"xc": 0.5}]},
                      "mark": {"type": "rule", "color": "white", "strokeDash": [2, 1.5], "strokeWidth": 0.8},
                      "encoding": {"x": {"field": "xc", "type": "quantitative"}}
                    }
                  ]
                }
              ]
            },
            {
              "width": 448, "height": 74,
              "view": {"stroke": null},
              "data": {"values": [{"cap": "(A) Lie–Troter heat map"}]},
              "mark": {"type": "text", "font": "Liberation Serif", "fontSize": 24, "align": "center", "baseline": "middle", "color": "black"},
              "encoding": {"text": {"field": "cap", "type": "nominal"}}
            }
          ]
        },
        {
          "columns": 1, "align": "none", "spacing": 0,
          "resolve": {"scale": {"color": "independent", "strokeDash": "independent"}, "legend": {"color": "independent", "strokeDash": "independent"}},
          "concat": [
            {
              "columns": 2, "align": "none", "spacing": 0,
              "resolve": {"scale": {"color": "independent", "strokeDash": "independent"}, "legend": {"color": "independent", "strokeDash": "independent"}},
              "concat": [
                {"width": 1, "height": 1, "view": {"stroke": null}, "data": {"name": "none"}, "mark": "point"},
                {
                  "width": 413, "height": 136,
                  "title": {"text": "Center value vs time: \\lambda(t) varying, kappa, b constant a(t) = −0.8 + 0.2sin(2πt/4.0)", "fontSize": 7.3, "offset": 4},
                  "data": {"name": "center"},
                  "mark": {"type": "line", "strokeWidth": 1.2},
                  "encoding": {
                    "x": {"field": "t", "type": "quantitative", "scale": {"domain": [-0.4, 8.4], "nice": false, "zero": false}, "axis": {"values": [0, 1, 2, 3, 4, 5, 6, 7, 8], "format": "d", "title": "time t", "grid": true, "gridColor": "#b0b0b0", "gridWidth": 0.8, "labelFontSize": 6.5, "titleFontSize": 6.5, "titlePadding": 3}},
                    "y": {"field": "u", "type": "quantitative", "scale": {"domain": [-0.045, 0.315], "nice": false, "zero": false}, "axis": {"values": [0, 0.05, 0.1, 0.15, 0.2, 0.25, 0.3], "format": ".2f", "title": "u(t, 0.5)", "grid": true, "gridColor": "#b0b0b0", "gridWidth": 0.8, "labelFontSize": 6.5, "titleFontSize": 6.5, "titlePadding": 5}},
                    "color": {"field": "series", "type": "nominal", "scale": {"domain": ["Lie–Trotter (center)", "Implicit Euler (center)"], "range": ["#1f77b4", "#ff7f0e"]}, "legend": {"title": null, "orient": "top-right", "offset": 3, "symbolType": "stroke", "symbolSize": 200, "symbolStrokeWidth": 1.2, "labelFontSize": 6.5, "fillColor": "rgba(255,255,255,0.85)", "strokeColor": "#cccccc", "padding": 4, "cornerRadius": 2, "rowPadding": 2}},
                    "strokeDash": {"field": "series", "type": "nominal", "scale": {"domain": ["Lie–Trotter (center)", "Implicit Euler (center)"], "range": [[1, 0], [3.5, 2]]}, "legend": {"title": null, "orient": "top-right", "offset": 3, "symbolType": "stroke", "symbolSize": 200, "symbolStrokeWidth": 1.2, "labelFontSize": 6.5, "fillColor": "rgba(255,255,255,0.85)", "strokeColor": "#cccccc", "padding": 4, "cornerRadius": 2, "rowPadding": 2}}
                  }
                }
              ]
            },
            {
              "width": 494, "height": 69,
              "view": {"stroke": null},
              "data": {"values": [{"cap": "(C) Midpoint value u(t, L/2)"}]},
              "mark": {"type": "text", "font": "Liberation Serif", "fontSize": 24, "align": "center", "baseline": "middle", "color": "black"},
              "encoding": {"text": {"field": "cap", "type": "nominal"}}
            }
          ]
        }
      ]
    },
    {
      "columns": 1, "align": "none", "spacing": 29,
      "resolve": {"scale": {"color": "independent"}, "legend": {"color": "independent"}},
      "concat": [
        {
          "columns": 1, "align": "none", "spacing": 0,
          "resolve": {"scale": {"color": "independent"}, "legend": {"color": "independent"}},
          "concat": [
            {
              "columns": 2, "align": "none", "spacing": 0,
              "resolve": {"scale": {"color": "independent"}, "legend": {"color": "independent"}},
              "concat": [
                {"width": 1, "height": 1, "view": {"stroke": null}, "data": {"name": "none"}, "mark": "point"},
                {
                  "width": 343, "height": 140,
                  "view": {"fill": "#471f70"},
                  "title": {"text": "Linear DDE+diffusion with \\lambda(t) — Implicit Euler heatmap a(t) = −0.8 + 0.2sin(2πt/4.0)", "fontSize": 6.5, "offset": 0.4},
                  "layer": [
                    {
                      "data": {"name": "heat"},
                      "mark": {"type": "rect", "clip": true},
                      "encoding": {
                        "x": {"field": "x", "type": "quantitative", "scale": {"domain": [0.005, 0.995], "nice": false, "zero": false}, "axis": {"values": [0.2, 0.4, 0.6, 0.8], "format": ".1f", "title": "x", "labelFontSize": 6, "titleFontSize": 6, "labelPadding": 1.5, "titlePadding": 3, "zindex": 1}},
                        "x2": {"field": "x2"},
                        "y": {"field": "t", "type": "quantitative", "scale": {"domain": [0, 8], "nice": false, "zero": false}, "axis": {"values": [1, 2, 3, 4, 5, 6, 7, 8], "format": "d", "title": "time t", "labelFontSize": 6, "titleFontSize": 6, "titlePadding": 3, "zindex": 1}},
                        "y2": {"field": "t2"},
                        "color": {"field": "u", "type": "quantitative", "scale": {"scheme": "viridis", "domain": [-0.044, 0.48], "nice": false}, "legend": {"type": "gradient", "direction": "vertical", "title": "u (Implicit Euler)", "orient": "right", "offset": 20, "gradientLength": 140, "gradientThickness": 7, "values": [0, 0.1, 0.2, 0.3, 0.4], "format": ".1f", "labelFontSize": 6, "labelOverlap": false, "labelOffset": 3, "titleFontSize": 6, "titleFontWeight": "normal", "titleOrient": "right", "titleAnchor": "middle", "titlePadding": 4, "gradientStrokeColor": "black", "gradientStrokeWidth": 0.6, "encode": {"title": {"update": {"angle": {"value": -90}, "baseline": {"value": "top"}, "align": {"value": "center"}}}}}}
                      }
                    },
                    {
                      "data": {"values": [{"xc": 0.5}]},
                      "mark": {"type": "rule", "color": "white", "strokeDash": [2, 1.5], "strokeWidth": 0.8},
                      "encoding": {"x": {"field": "xc", "type": "quantitative"}}
                    }
                  ]
                }
              ]
            },
            {
              "width": 454, "height": 74,
              "view": {"stroke": null},
              "data": {"values": [{"cap": "(B) Implicit Euler heat map"}]},
              "mark": {"type": "text", "font": "Liberation Serif", "fontSize": 24, "align": "center", "baseline": "middle", "color": "black"},
              "encoding": {"text": {"field": "cap", "type": "nominal"}}
            }
          ]
        },
        {
          "columns": 1, "align": "none", "spacing": 0,
          "concat": [
            {
              "columns": 2, "align": "none", "spacing": 0,
              "concat": [
                {"width": 1, "height": 1, "view": {"stroke": null}, "data": {"name": "none"}, "mark": "point"},
                {
                  "width": 397, "height": 214,
                  "title": {"text": "Timing comparison (single run) a(t) = −0.8 + 0.2sin(2πt/4.0)", "fontSize": 10, "offset": 4.3},
                  "data": {"name": "timing"},
                  "mark": {"type": "bar", "color": "#1f77b4"},
                  "encoding": {
                    "x": {"field": "method", "type": "nominal", "sort": null, "scale": {"paddingInner": 0.2, "paddingOuter": 0.09}, "axis": {"title": null, "labelAngle": 0, "labelFontSize": 8.5, "tickSize": 3.5, "labelPadding": 3}},
                    "y": {"field": "time", "type": "quantitative", "scale": {"domain": [0, 1.218], "nice": false}, "axis": {"values": [0, 0.2, 0.4, 0.6, 0.8, 1.0, 1.2], "format": ".1f", "title": "time (s)", "labelFontSize": 8.5, "titleFontSize": 8.5, "tickSize": 3.5, "labelPadding": 3, "titlePadding": 10}}
                  }
                }
              ]
            },
            {
              "width": 452, "height": 77,
              "view": {"stroke": null},
              "data": {"values": [{"cap": "(D) Computational cost comparison"}]},
              "mark": {"type": "text", "font": "Liberation Serif", "fontSize": 24, "align": "center", "baseline": "middle", "color": "black"},
              "encoding": {"text": {"field": "cap", "type": "nominal"}}
            }
          ]
        }
      ]
    }
  ]
}
